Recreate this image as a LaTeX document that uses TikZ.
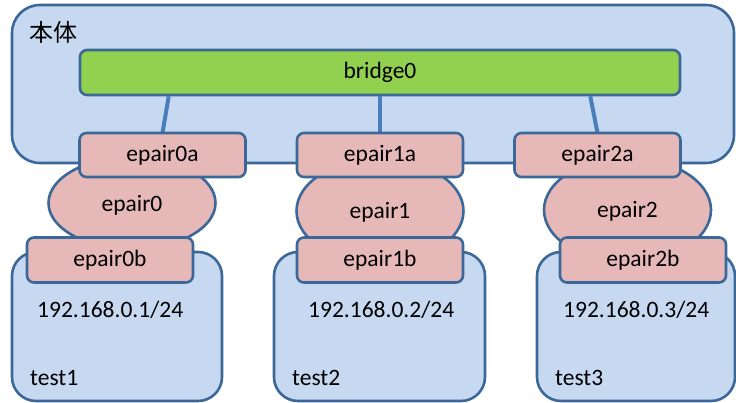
\documentclass[tikz,border=0pt]{standalone}
\usepackage{fontspec}
\setmainfont{Carlito}
\newfontfamily\cjk{Noto Sans CJK JP}
\usetikzlibrary{shapes.geometric}
\definecolor{hostfill}{HTML}{C6D9F1}
\definecolor{edgeblue}{HTML}{3B6898}
\definecolor{linkblue}{HTML}{4A7EBB}
\definecolor{bridgegreen}{HTML}{92D050}
\definecolor{pairpink}{HTML}{E6B9B8}
\tikzset{
  box/.style={draw=edgeblue, line width=2.6pt, rectangle, inner sep=0pt},
  hostbox/.style={box, fill=hostfill, rounded corners=28pt},
  jailbox/.style={box, fill=hostfill, rounded corners=24pt},
  brbox/.style={box, fill=bridgegreen, rounded corners=7pt},
  ifbox/.style={box, fill=pairpink, rounded corners=7pt,
    minimum width=166pt, minimum height=45pt},
  pairshape/.style={draw=edgeblue, line width=2.6pt, ellipse, fill=pairpink,
    inner sep=0pt, minimum width=167pt},
  link/.style={draw=linkblue, line width=4pt},
  lbl/.style={inner sep=0pt, anchor=west},
}
\begin{document}
\begin{tikzpicture}[x=1pt, y=-1pt, font=\fontsize{23.5}{28}\selectfont]
\useasboundingbox (0,0) rectangle (736,403);

% host and jails
\node[hostbox, minimum width=722pt, minimum height=158pt] (host) at (373,84) {};
\node[lbl] (hostname) at (29,32) {\cjk\fontsize{24}{28}\selectfont 本体};
\node[jailbox, minimum width=210pt, minimum height=149pt] (test1) at (117,326.5) {};
\node[jailbox, minimum width=211pt, minimum height=149pt] (test2) at (379.5,326.5) {};
\node[jailbox, minimum width=198pt, minimum height=149pt] (test3) at (636,326.5) {};

% bridge
\node[brbox, minimum width=600pt, minimum height=45pt] (bridge) at (380,72.5) {bridge0};

% epair a-side endpoints (placed first so the links can use them)
\path (162.5,155) coordinate (pa0) (380,155) coordinate (pa1) (597.5,155) coordinate (pa2);

% links from the bridge
\draw[link] ([xshift=90pt]bridge.south west) -- (162.5,133) coordinate (ta0);
\draw[link] (bridge.south) -- (380,133) coordinate (ta1);
\draw[link] ([xshift=-91pt]bridge.south east) -- (597.5,133) coordinate (ta2);

% epair pipes
\node[pairshape, minimum height=92pt] (ep0) at (132,203) {};
\node[pairshape, minimum height=104pt] (ep1) at (380,211) {};
\node[pairshape, minimum height=104pt] (ep2) at (627.5,210) {};
\node (ep0t) at (132,205) {epair0};
\node (ep1t) at (380,212) {epair1};
\node (ep2t) at (627.5,211) {epair2};

% a-side interfaces
\node[ifbox, minimum height=44pt] (e0a) at (pa0) {epair0a};
\node[ifbox, minimum height=44pt] (e1a) at (pa1) {epair1a};
\node[ifbox, minimum height=44pt] (e2a) at (pa2) {epair2a};

% b-side interfaces
\node[ifbox] (e0b) at (110,260) {epair0b};
\node[ifbox] (e1b) at (380,260) {epair1b};
\node[ifbox] (e2b) at (643,260) {epair2b};

% addresses and jail names
\node[lbl] (ip1) at (37,310) {192.168.0.1/24};
\node[lbl] (ip2) at (308,310) {192.168.0.2/24};
\node[lbl] (ip3) at (563,310) {192.168.0.3/24};
\node[lbl] (n1) at (30,378) {test1};
\node[lbl] (n2) at (292,378) {test2};
\node[lbl] (n3) at (555,378) {test3};
\end{tikzpicture}
\end{document}
